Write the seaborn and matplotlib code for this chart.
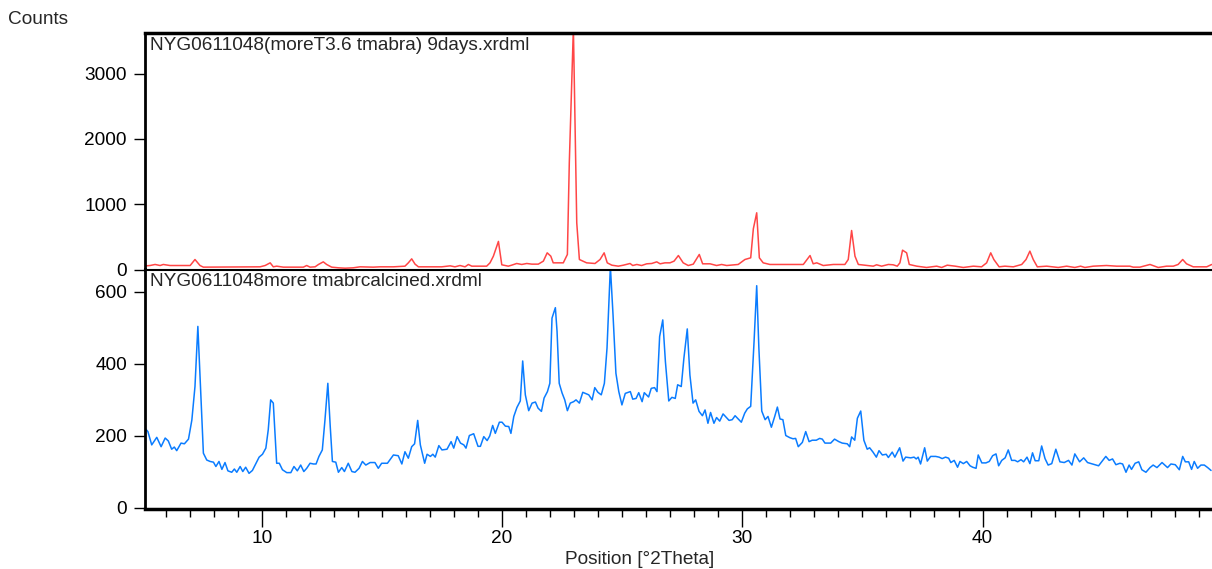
import numpy as np
import pandas as pd
import matplotlib
matplotlib.use("Agg")
import matplotlib.pyplot as plt
import seaborn as sns

# ---------------- data ----------------
red_x = [5.14, 5.35, 5.56, 5.77, 5.90, 6.18, 7.02, 7.22, 7.43, 7.57, 9.93, 10.14, 10.35, 10.48,
         10.62, 10.90, 11.73, 11.87, 12.01, 12.22, 12.36, 12.56, 12.70, 12.91, 13.19, 13.47,
         13.81, 14.09, 14.64, 14.92, 15.48, 15.96, 16.10, 16.24, 16.38, 16.52, 17.00, 17.49,
         17.84, 18.04, 18.25, 18.46, 18.60, 18.74, 19.36, 19.50, 19.64, 19.85, 19.99, 20.26,
         20.40, 20.61, 20.82, 21.03, 21.24, 21.51, 21.72, 21.88, 22.03, 22.13, 22.55, 22.72,
         22.80, 22.97, 23.11, 23.22, 23.52, 23.87, 24.08, 24.25, 24.38, 24.57, 24.84, 25.05,
         25.33, 25.44, 25.61, 25.81, 26.02, 26.23, 26.44, 26.58, 26.78, 26.99, 27.16, 27.34,
         27.54, 27.75, 27.96, 28.21, 28.35, 28.66, 28.93, 29.14, 29.35, 29.83, 30.11, 30.35,
         30.46, 30.60, 30.71, 30.87, 31.15, 32.54, 32.82, 32.95, 33.10, 33.37, 33.79, 34.27,
         34.41, 34.55, 34.69, 34.83, 35.45, 35.59, 35.80, 36.08, 36.28, 36.45, 36.56, 36.67,
         36.84, 36.95, 37.26, 37.67, 38.09, 38.30, 38.53, 38.86, 39.20, 39.62, 39.96, 40.17,
         40.34, 40.47, 40.69, 40.93, 41.28, 41.63, 41.81, 41.97, 42.11, 42.28, 42.67, 43.15,
         43.50, 43.84, 44.08, 44.26, 44.61, 45.16, 45.58, 46.13, 46.27, 46.55, 46.97, 47.31,
         47.66, 47.94, 48.14, 48.33, 48.49, 48.77, 49.33, 49.54]
red_y = [55, 61, 77, 61, 77, 61, 61, 153, 61, 36, 41, 61, 102, 41,
         51, 36, 36, 61, 36, 41, 77, 117, 77, 36, 26, 20,
         26, 41, 36, 41, 41, 51, 102, 163, 82, 41, 41, 41,
         56, 41, 61, 41, 77, 51, 51, 102, 204, 430, 72, 51,
         66, 92, 77, 92, 82, 82, 128, 255, 204, 102, 102, 230,
         1634, 3700, 715, 153, 102, 92, 153, 255, 102, 66, 51, 66,
         92, 61, 77, 61, 87, 92, 117, 87, 102, 102, 128, 214,
         102, 61, 82, 230, 87, 87, 61, 77, 61, 77, 153, 179,
         623, 868, 179, 102, 77, 77, 214, 87, 102, 61, 77, 77,
         153, 597, 204, 77, 51, 72, 51, 77, 72, 51, 102, 296,
         255, 77, 51, 31, 51, 31, 66, 51, 31, 51, 41, 102,
         255, 153, 41, 51, 41, 77, 153, 281, 153, 41, 51, 31,
         51, 31, 51, 31, 51, 61, 51, 51, 36, 36, 77, 31,
         51, 51, 77, 153, 87, 41, 41, 77]

blue_x = [5.14, 5.26, 5.42, 5.63, 5.81, 5.98, 6.11, 6.25, 6.36, 6.46, 6.64, 6.78, 6.95, 7.09,
          7.22, 7.34, 7.57, 7.71, 7.85, 7.99, 8.09, 8.22, 8.34, 8.47, 8.59, 8.75, 8.86, 8.96,
          9.10, 9.21, 9.33, 9.47, 9.61, 9.76, 9.89, 10.03, 10.17, 10.27, 10.37, 10.48, 10.62,
          10.73, 10.86, 11.04, 11.21, 11.34, 11.48, 11.62, 11.75, 11.87, 12.01, 12.15, 12.26,
          12.38, 12.52, 12.63, 12.75, 12.85, 12.94, 13.08, 13.19, 13.33, 13.44, 13.60, 13.75,
          13.88, 14.05, 14.19, 14.33, 14.51, 14.71, 14.85, 14.99, 15.23, 15.48, 15.68, 15.83,
          15.96, 16.10, 16.24, 16.36, 16.49, 16.60, 16.78, 16.88, 17.02, 17.12, 17.22, 17.37,
          17.50, 17.71, 17.88, 17.99, 18.13, 18.27, 18.41, 18.50, 18.64, 18.82, 19.00, 19.10,
          19.24, 19.38, 19.49, 19.61, 19.72, 19.89, 20.00, 20.14, 20.28, 20.37, 20.49, 20.62,
          20.76, 20.86, 20.97, 21.11, 21.25, 21.39, 21.50, 21.64, 21.75, 21.89, 21.99, 22.08,
          22.22, 22.29, 22.38, 22.50, 22.61, 22.72, 22.84, 22.98, 23.08, 23.22, 23.36, 23.47,
          23.61, 23.75, 23.86, 23.99, 24.13, 24.26, 24.37, 24.51, 24.62, 24.74, 24.86, 24.99,
          25.13, 25.34, 25.44, 25.58, 25.69, 25.83, 25.92, 26.10, 26.21, 26.35, 26.45, 26.56,
          26.69, 26.80, 26.94, 27.07, 27.21, 27.31, 27.46, 27.57, 27.71, 27.82, 27.95, 28.06,
          28.20, 28.34, 28.45, 28.57, 28.68, 28.82, 28.93, 29.06, 29.20, 29.45, 29.58, 29.70,
          29.83, 29.96, 30.10, 30.21, 30.35, 30.49, 30.60, 30.69, 30.81, 30.95, 31.07, 31.21,
          31.35, 31.46, 31.57, 31.69, 31.81, 31.98, 32.11, 32.22, 32.33, 32.50, 32.64, 32.78,
          32.91, 33.08, 33.22, 33.33, 33.44, 33.68, 33.84, 34.02, 34.16, 34.37, 34.47, 34.55,
          34.68, 34.79, 34.93, 35.06, 35.20, 35.30, 35.44, 35.58, 35.69, 35.83, 35.99, 36.08,
          36.24, 36.35, 36.55, 36.69, 36.80, 37.01, 37.15, 37.24, 37.32, 37.42, 37.59, 37.70,
          37.84, 38.05, 38.19, 38.32, 38.46, 38.59, 38.68, 38.82, 38.96, 39.06, 39.20, 39.34,
          39.48, 39.59, 39.73, 39.82, 39.97, 40.14, 40.28, 40.42, 40.56, 40.67, 40.80, 40.94,
          41.07, 41.21, 41.35, 41.46, 41.60, 41.71, 41.85, 41.97, 42.08, 42.19, 42.34, 42.46,
          42.60, 42.73, 42.88, 43.05, 43.22, 43.40, 43.58, 43.72, 43.84, 44.04, 44.21, 44.37,
          44.58, 44.83, 45.00, 45.13, 45.27, 45.41, 45.55, 45.72, 45.83, 45.97, 46.10, 46.20,
          46.35, 46.50, 46.63, 46.80, 46.97, 47.10, 47.26, 47.47, 47.70, 47.84, 48.02, 48.19,
          48.33, 48.44, 48.58, 48.70, 48.81, 48.95, 49.09, 49.23, 49.37, 49.51]
blue_y = [221, 212, 175, 196, 170, 194, 186, 163, 169, 159, 180, 178, 191, 244,
          337, 504, 152, 133, 129, 127, 115, 129, 107, 126, 103, 99, 108, 99,
          115, 101, 113, 96, 104, 124, 141, 149, 166, 217, 300, 291, 124,
          124, 106, 98, 98, 115, 103, 119, 101, 110, 124, 122, 122,
          143, 161, 244, 346, 226, 129, 127, 99, 112, 101, 124, 101,
          99, 110, 129, 119, 126, 126, 110, 124, 124, 147, 145, 122,
          156, 138, 170, 178, 243, 175, 124, 149, 143, 149, 141, 173,
          161, 163, 184, 166, 198, 180, 175, 166, 201, 206, 171, 171,
          198, 187, 200, 229, 207, 238, 238, 227, 226, 207, 254, 279,
          297, 408, 314, 270, 291, 294, 277, 268, 305, 323, 346, 527,
          556, 490, 346, 319, 300, 270, 291, 295, 300, 291, 321, 318,
          314, 300, 334, 321, 314, 346, 444, 670, 536, 374, 323, 286,
          318, 323, 302, 304, 320, 295, 320, 308, 332, 334, 323, 476,
          522, 406, 297, 307, 304, 342, 337, 416, 497, 369, 291, 300,
          268, 256, 272, 235, 265, 235, 251, 241, 261, 243, 245, 256,
          247, 238, 263, 275, 282, 462, 617, 444, 269, 245, 254, 224,
          254, 280, 247, 245, 201, 195, 192, 193, 170, 182, 212, 184,
          188, 188, 193, 191, 180, 180, 191, 184, 180, 178, 170, 197,
          188, 249, 269, 188, 163, 167, 155, 141, 159, 147, 149, 140,
          155, 141, 167, 130, 141, 139, 141, 136, 141, 122, 167, 130,
          143, 143, 141, 137, 141, 138, 126, 132, 113, 129, 123, 129,
          117, 113, 110, 147, 125, 125, 129, 145, 150, 117, 132, 139,
          161, 132, 132, 128, 134, 128, 141, 123, 153, 131, 131, 172,
          137, 119, 123, 163, 128, 126, 132, 119, 150, 128, 139, 126,
          122, 117, 132, 143, 132, 136, 120, 124, 122, 99, 119, 107,
          124, 128, 106, 99, 112, 119, 112, 126, 112, 122, 120, 106,
          143, 128, 128, 107, 129, 110, 119, 119, 112, 104]

top_label = "NYG0611048(moreT3.6 tmabra) 9days.xrdml"
bottom_label = "NYG0611048more tmabrcalcined.xrdml"
top_yticks = [0, 1000, 2000, 3000]
bottom_yticks = [0, 200, 400, 600]
x_ticks = [10, 20, 30, 40]
x_label = "Position [°2Theta]"
y_label = "Counts"

red_df = pd.DataFrame({"pos": red_x, "counts": red_y})
blue_df = pd.DataFrame({"pos": blue_x, "counts": blue_y})

# ---------------- styling ----------------
sns.set_style("white")
plt.rcParams['font.family'] = ['Liberation Sans', 'DejaVu Sans']
FS = 13.7

W, H = 1212, 569
fig = plt.figure(figsize=(W / 100, H / 100), dpi=100)
left = 145 / W
width = (W - 145) / W
ax_top = fig.add_axes([left, 1 - 269.5 / H, width, (269.5 - 33) / H])
ax_bot = fig.add_axes([left, 1 - 509 / H, width, (509 - 269.5) / H])

sns.lineplot(data=red_df, x="pos", y="counts", ax=ax_top, color="#ff4646",
             linewidth=1.1, estimator=None, sort=False)
sns.lineplot(data=blue_df, x="pos", y="counts", ax=ax_bot, color="#0a7cff",
             linewidth=1.1, estimator=None, sort=False)

xlim = (5.14, 49.55)
for ax in (ax_top, ax_bot):
    ax.set_xlim(*xlim)
    ax.set_xlabel("")
    ax.set_ylabel("")
    ax.spines["right"].set_visible(False)
    ax.spines["left"].set_linewidth(2.0)
    ax.spines["left"].set_color("black")
    ax.tick_params(axis="y", left=True, direction="out", length=8, width=1,
                   pad=5, labelsize=FS, colors="black")

ax_top.set_ylim(0, 3620)
ax_bot.set_ylim(-3, 662)
ax_top.set_yticks(top_yticks)
ax_bot.set_yticks(bottom_yticks)

ax_top.spines["top"].set_linewidth(2.5)
ax_top.spines["top"].set_color("black")
ax_top.spines["bottom"].set_visible(False)
ax_top.set_xticks([])

ax_bot.spines["top"].set_linewidth(1.5)
ax_bot.spines["top"].set_color("black")
ax_bot.spines["bottom"].set_linewidth(2.5)
ax_bot.spines["bottom"].set_color("black")
ax_bot.set_xticks(x_ticks)
ax_bot.set_xticks(np.arange(6, 50, 1), minor=True)
ax_bot.tick_params(axis="x", which="major", bottom=True, direction="out",
                   length=13, width=1, pad=2, labelsize=FS, colors="black")
ax_bot.tick_params(axis="x", which="minor", bottom=True, direction="out",
                   length=6, width=1, colors="black")
ax_bot.set_xlabel(x_label, fontsize=FS)
ax_bot.xaxis.label.set_va("center")
ax_bot.xaxis.set_label_coords((639.5 - 145) / (W - 145), -(560 - 509) / (509 - 269.5))

ax_top.text(5 / (W - 145), 1 - 12 / (269.5 - 33), top_label, transform=ax_top.transAxes,
            ha="left", va="center", fontsize=FS)
ax_bot.text(5 / (W - 145), 1 - 12.5 / (509 - 269.5), bottom_label, transform=ax_bot.transAxes,
            ha="left", va="center", fontsize=FS)
fig.text(8 / W, 1 - 20 / H, y_label, ha="left", va="center", fontsize=FS)

fig.savefig("out.png", dpi=100)
